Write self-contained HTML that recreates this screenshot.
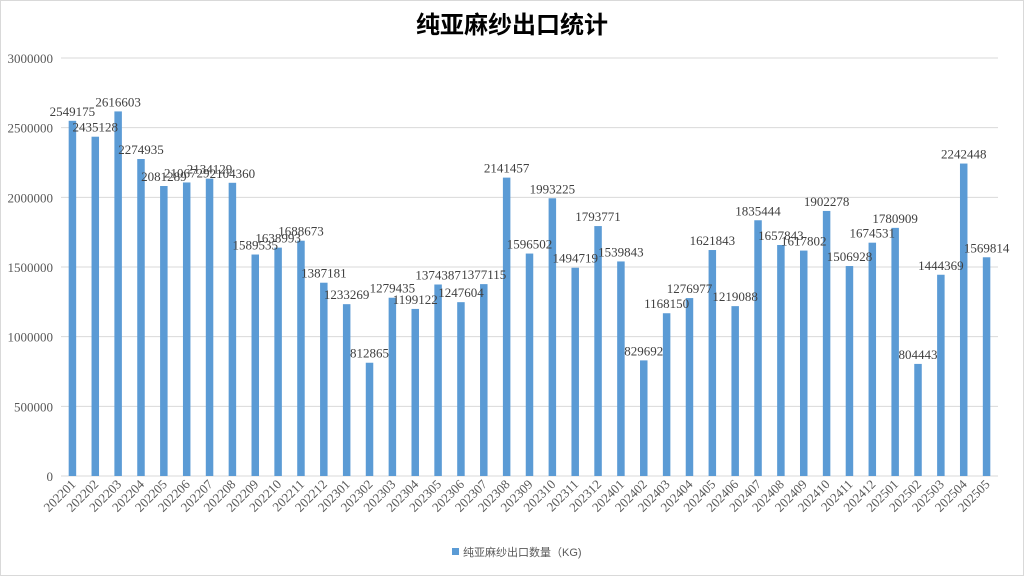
<!DOCTYPE html>
<html><head><meta charset="utf-8"><style>
body{margin:0;background:#fff;}
svg{display:block;font-family:"Liberation Serif","Noto Serif CJK SC",serif;}
</style></head><body>
<svg id="chart" width="1024" height="576">
<rect x="0.5" y="0.5" width="1023" height="575" fill="#fff" stroke="#d9d9d9"/>
<text x="512" y="33" text-anchor="middle" font-size="24" font-weight="bold" fill="#000" style="font-family:'Liberation Sans','Noto Sans CJK SC',sans-serif">纯亚麻纱出口统计</text>
<g id="grid"></g><g id="bars"></g><g id="labels"></g><g id="xticks"></g><g id="yticks"></g>
<g>
<rect x="452" y="548" width="7" height="7" fill="#5b9bd5"/>
<text x="463" y="556" font-size="11" fill="#595959" style="font-family:'Liberation Sans','Noto Sans CJK SC',sans-serif">纯亚麻纱出口数量（KG)</text>
</g>
</svg>
<script>
const categories=["202201","202202","202203","202204","202205","202206","202207","202208","202209","202210","202211","202212","202301","202302","202303","202304","202305","202306","202307","202308","202309","202310","202311","202312","202401","202402","202403","202404","202405","202406","202407","202408","202409","202410","202411","202412","202501","202502","202503","202504","202505"];
const values=[2549175,2435128,2616603,2274935,2081289,2106729,2134129,2104360,1589535,1638993,1688673,1387181,1233269,812865,1279435,1199122,1374387,1247604,1377115,2141457,1596502,1993225,1494719,1793771,1539843,829692,1168150,1276977,1621843,1219088,1835444,1657843,1617802,1902278,1506928,1674531,1780909,804443,1444369,2242448,1569814];
const yTicks=[0,500000,1000000,1500000,2000000,2500000,3000000];
const NS="http://www.w3.org/2000/svg";
const pLeft=61,pRight=998,pTop=58,pBottom=476,yMax=3000000;
const band=(pRight-pLeft)/categories.length;
const yS=v=>pBottom-(v/yMax)*(pBottom-pTop);
const xS=i=>pLeft+band*(i+0.5);
function mk(t,a,p){const e=document.createElementNS(NS,t);for(const k in a)e.setAttribute(k,a[k]);p.appendChild(e);return e;}
const gridG=document.getElementById('grid'),ytG=document.getElementById('yticks');
yTicks.forEach(v=>{
 const l=mk('line',{x1:pLeft,x2:pRight,y1:yS(v),y2:yS(v),stroke:'#d9d9d9','stroke-width':1},gridG);
 
 
 const t=mk('text',{x:53,y:yS(v)+5,'text-anchor':'end','font-size':13,fill:'#595959'},ytG);
 t.textContent=v;
 
 
});
const barsG=document.getElementById('bars'),labG=document.getElementById('labels'),xtG=document.getElementById('xticks');
const bw=7.5;
values.forEach((v,i)=>{
 const r=mk('rect',{x:xS(i)-bw/2,y:yS(v),width:bw,height:pBottom-yS(v),fill:'#5b9bd5'},barsG);
 
 
 const t=mk('text',{x:xS(i),y:yS(v)-5,'text-anchor':'middle','font-size':13,fill:'#404040'},labG);
 t.textContent=v;
 
 
 const c=mk('text',{x:0,y:0,'text-anchor':'end','font-size':13,fill:'#595959',transform:`translate(${xS(i)+4},${pBottom+9}) rotate(-45)`},xtG);
 c.textContent=categories[i];
 
 
});
</script>
</body></html>
